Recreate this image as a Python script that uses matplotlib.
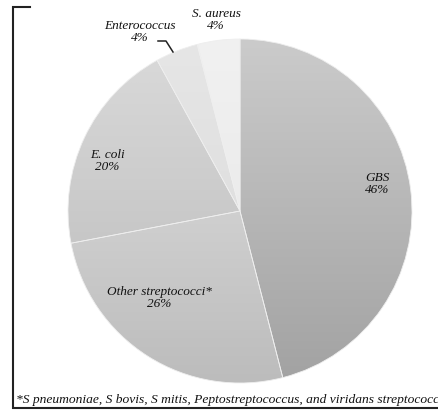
import matplotlib
matplotlib.use("Agg")
import matplotlib.pyplot as plt
import numpy as np

# isolates by organism, clockwise from 12 o'clock
labels = ["GBS", "Other streptococci*", "E. coli", "Enterococcus", "S. aureus"]
shares = [46, 26, 20, 4, 4]
# grey ramp per slice (top colour, bottom colour)
shades = [("#cbcbcb", "#a2a2a2"),
          ("#e3e3e3", "#bcbcbc"),
          ("#dadada", "#bababa"),
          ("#e6e6e6", "#d9d9d9"),
          ("#f1f1f1", "#e6e6e6")]
footnote = "*S pneumoniae, S bovis, S mitis, Peptostreptococcus, and viridans streptococci"

W, H = 438, 414
fig = plt.figure(figsize=(W / 100, H / 100), dpi=100)
ax = fig.add_axes([0, 0, 1, 1])

cx, cy, r = 240, H - 212, 172
wedges, _ = ax.pie(shares, startangle=90, counterclock=False,
                   center=(cx, cy), radius=r,
                   wedgeprops=dict(linewidth=0.6, edgecolor="#eeeeee"))

# vertical gradient inside each slice
grad = np.linspace(0, 1, 256)[:, None]
for w, (top, bot) in zip(wedges, shades):
    t = np.array(matplotlib.colors.to_rgb(top))
    b = np.array(matplotlib.colors.to_rgb(bot))
    img = t + (b - t) * grad[..., None]
    img = np.repeat(img, 2, axis=1)
    w.set_facecolor("none")
    im = ax.imshow(img, extent=(cx - r, cx + r, cy - r, cy + r),
                   origin="upper", aspect="auto", zorder=0.5,
                   interpolation="bilinear")
    im.set_clip_path(w)

serif = dict(family="Liberation Serif", style="italic", color="#111111")
texts = [(377, 184, "GBS\n46%"),
         (159, 298, "Other streptococci*\n26%"),
         (107, 161, "E. coli\n20%"),
         (140, 32, "Enterococcus\n4%"),
         (216, 20, "S. aureus\n4%")]
for x, y, s in texts:
    ax.text(x, H - y, s, ha="center", va="center", fontsize=9.5,
            linespacing=1.05, **serif)

# leader for the Enterococcus slice
ax.plot([158, 166, 173], [H - 42, H - 42, H - 53], color="#222222", lw=1.1)

# frame lines
ax.plot([30, 13, 13, W], [H - 8, H - 8, H - 409, H - 409],
        color="#222222", lw=1.5, solid_joinstyle="miter")
ax.text(16, H - 400, footnote, ha="left", va="center", fontsize=9.7,
        **serif)

ax.set_xlim(0, W)
ax.set_ylim(0, H)
ax.axis("off")
fig.savefig("out.png", dpi=100)
plt.close(fig)
